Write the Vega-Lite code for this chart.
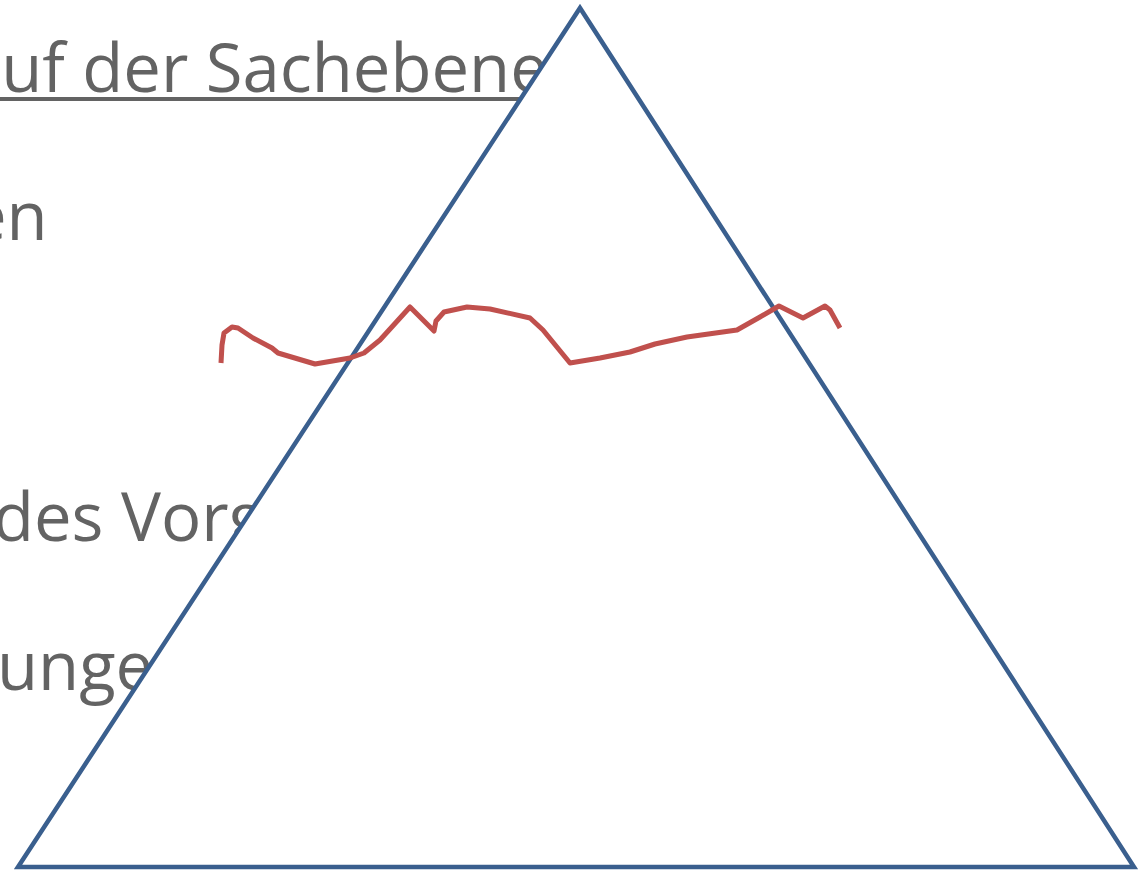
{
  "$schema": "https://vega.github.io/schema/vega-lite/v6.json",
  "width": 1142,
  "height": 872,
  "autosize": {"type": "none"},
  "padding": 0,
  "background": "white",
  "config": {"view": {"stroke": null}},
  "datasets": {
    "texts": [
      {"label": "auf der Sachebene", "x": -36, "y": 92},
      {"label": "en", "x": -31, "y": 240},
      {"label": "des Vorg", "x": -7, "y": 541},
      {"label": "unge", "x": -3, "y": 690}
    ],
    "underline": [{"x": 0, "x2": 560, "y": 99}],
    "tri": [
      {"i": 1, "x": 18, "y": 867},
      {"i": 2, "x": 580, "y": 8},
      {"i": 3, "x": 1134, "y": 867}
    ],
    "wave": [
      {"i": 1, "x": 221, "y": 363},
      {"i": 2, "x": 222, "y": 345},
      {"i": 3, "x": 224, "y": 333},
      {"i": 4, "x": 232, "y": 327},
      {"i": 5, "x": 238, "y": 328},
      {"i": 6, "x": 253, "y": 338},
      {"i": 7, "x": 272, "y": 348},
      {"i": 8, "x": 278, "y": 353},
      {"i": 9, "x": 315, "y": 364},
      {"i": 10, "x": 350, "y": 358},
      {"i": 11, "x": 364, "y": 353},
      {"i": 12, "x": 380, "y": 340},
      {"i": 13, "x": 410, "y": 307},
      {"i": 14, "x": 434, "y": 331},
      {"i": 15, "x": 436, "y": 321},
      {"i": 16, "x": 444, "y": 312},
      {"i": 17, "x": 467, "y": 307},
      {"i": 18, "x": 490, "y": 309},
      {"i": 19, "x": 530, "y": 318},
      {"i": 20, "x": 543, "y": 330},
      {"i": 21, "x": 570, "y": 363},
      {"i": 22, "x": 600, "y": 358},
      {"i": 23, "x": 630, "y": 352},
      {"i": 24, "x": 655, "y": 344},
      {"i": 25, "x": 687, "y": 337},
      {"i": 26, "x": 737, "y": 330},
      {"i": 27, "x": 760, "y": 317},
      {"i": 28, "x": 779, "y": 306},
      {"i": 29, "x": 803, "y": 318},
      {"i": 30, "x": 825, "y": 306},
      {"i": 31, "x": 830, "y": 310},
      {"i": 32, "x": 840, "y": 328}
    ]
  },
  "encoding": {
    "x": {"field": "x", "type": "quantitative", "scale": {"domain": [0, 1142], "nice": false, "zero": false}, "axis": null},
    "y": {"field": "y", "type": "quantitative", "scale": {"domain": [0, 872], "nice": false, "zero": false, "reverse": true}, "axis": null}
  },
  "layer": [
    {
      "data": {"name": "texts"},
      "mark": {"type": "text", "font": "Open Sans", "fontSize": 67, "color": "#636363", "align": "left", "baseline": "alphabetic"},
      "encoding": {"text": {"field": "label", "type": "nominal"}}
    },
    {
      "data": {"name": "underline"},
      "mark": {"type": "rule", "color": "#636363", "strokeWidth": 4},
      "encoding": {"x2": {"field": "x2"}}
    },
    {
      "data": {"name": "tri"},
      "mark": {"type": "area", "color": "white", "opacity": 1},
      "encoding": {"y2": {"datum": 867}}
    },
    {
      "data": {"name": "tri"},
      "mark": {"type": "line", "interpolate": "linear-closed", "color": "#3A5F8E", "strokeWidth": 4.5, "strokeJoin": "miter"},
      "encoding": {"order": {"field": "i", "type": "quantitative"}}
    },
    {
      "data": {"name": "wave"},
      "mark": {"type": "line", "color": "#C0504D", "strokeWidth": 5, "strokeJoin": "round", "strokeCap": "butt"},
      "encoding": {"order": {"field": "i", "type": "quantitative"}}
    }
  ]
}
